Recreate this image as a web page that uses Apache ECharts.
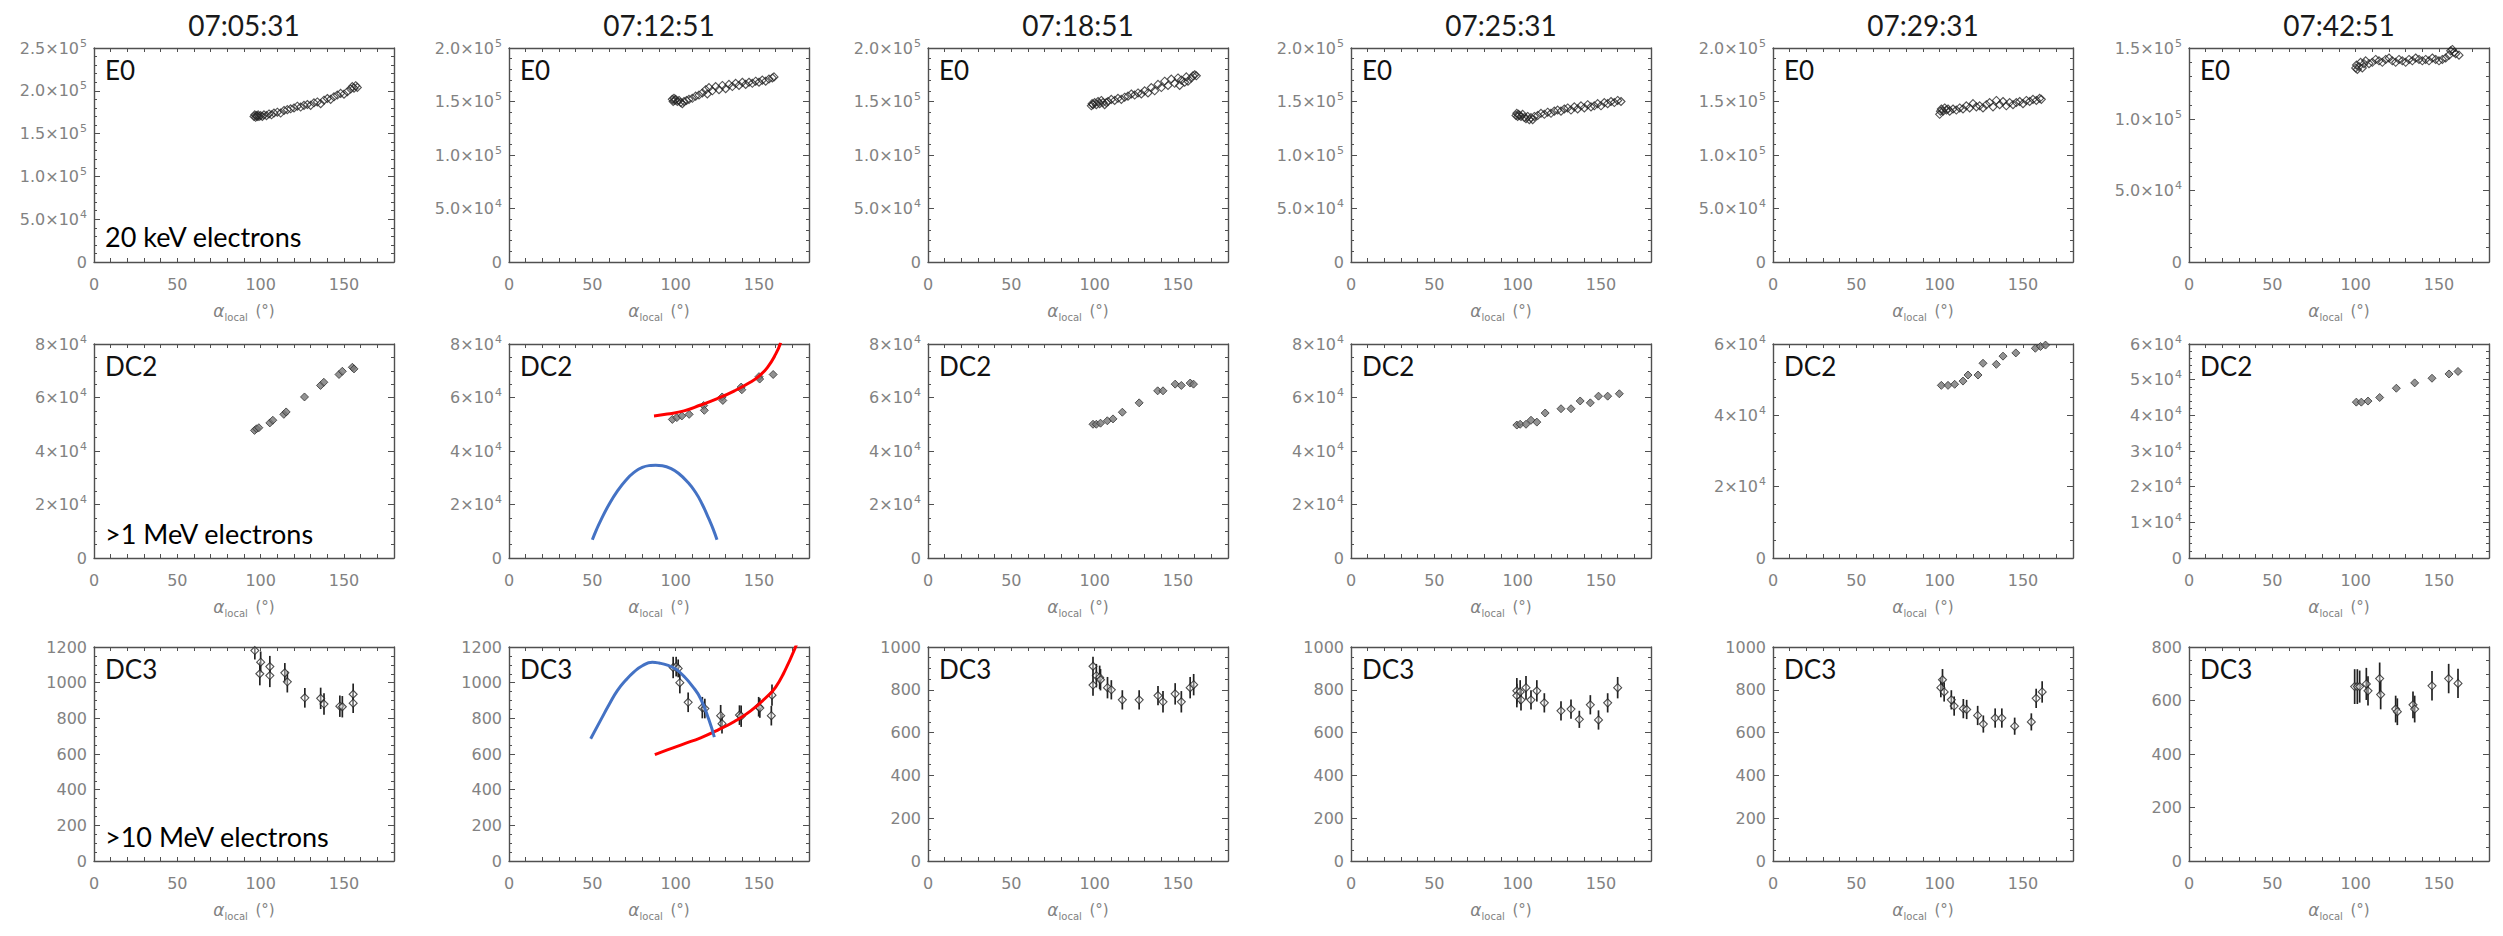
<!DOCTYPE html>
<html>
<head>
<meta charset="utf-8">
<script src="https://cdn.jsdelivr.net/npm/echarts@6/dist/echarts.min.js"></script>
<style>
  html, body { margin: 0; padding: 0; background: #fff; }
  #chart { width: 2503px; height: 936px; }
</style>
</head>
<body>
<div id="chart"></div>
<script>
// ---- labels ----
const timeLabels = ['07:05:31', '07:12:51', '07:18:51', '07:25:31', '07:29:31', '07:42:51'];
const channelNames = ['E0', 'DC2', 'DC3'];
const energyLabels = ['20 keV electrons', '>1 MeV electrons', '>10 MeV electrons'];
const xTickLabels = [0, 50, 100, 150];

// ---- y-axis ranges (one entry per time column) ----
const yMaxE0 = [250000, 200000, 200000, 200000, 200000, 150000];
const yStepE0 = [50000, 50000, 50000, 50000, 50000, 50000];
const yMaxDC2 = [80000, 80000, 80000, 80000, 60000, 60000];
const yStepDC2 = [20000, 20000, 20000, 20000, 20000, 10000];
const yMaxDC3 = [1200, 1200, 1000, 1000, 1000, 800];
const yStepDC3 = [200, 200, 200, 200, 200, 200];

// ---- E0 flux vs local pitch angle [alpha, flux] ----
const e0_070531 = [[96,170000],[96.5,172000],[97,169000],[97.5,171000],[98,170000],[98.5,172000],[99,170000],[100,171000],[101,170000],[102,172000],[103.5,171000],[105,173000],[106.5,172000],[108,174000],[110,175000],[112,174000],[114,177000],[116,178000],[118,179000],[120,180000],[122,182000],[124,181000],[126,183000],[128,184000],[130,183000],[132,186000],[134,187000],[136,185000],[138,189000],[140,191000],[142,190000],[144,193000],[146,195000],[148,197000],[150,196000],[152,199000],[154,202000],[155,205000],[156,203000],[157,206000],[158,204000]];
const e0_071251 = [[98,152000],[98.5,150000],[99,153000],[99.5,151000],[100,152000],[101,150000],[102,151000],[103,149000],[104,148000],[105,150000],[106.5,151000],[108,152000],[110,153000],[112,155000],[114,156000],[116,158000],[118,161000],[119,157000],[120,163000],[122,160000],[124,164000],[126,161000],[128,165000],[130,162000],[132,166000],[134,164000],[136,167000],[138,165000],[140,168000],[142,166000],[144,168000],[146,167000],[148,169000],[150,168000],[152,170000],[154,169000],[156,171000],[158,172000],[159,173000]];
const e0_071851 = [[98,146000],[98.5,148000],[99,147000],[100,149000],[101,147000],[102,150000],[103,148000],[104,151000],[105,149000],[106,147000],[107,149000],[108,150000],[110,152000],[112,151000],[114,153000],[116,152000],[118,154000],[120,155000],[122,157000],[124,156000],[126,158000],[128,157000],[130,160000],[132,158000],[134,163000],[136,160000],[138,166000],[140,163000],[142,169000],[144,165000],[146,171000],[148,167000],[150,172000],[151,165000],[152,170000],[154,168000],[155,173000],[156,169000],[158,172000],[159,174000],[160,175000],[161,174000]];
const e0_072531 = [[99,137000],[99.5,139000],[100,136000],[100.5,138000],[101,137000],[102,136000],[103,138000],[104,135000],[105,134000],[106,136000],[107,133000],[108,135000],[109,133000],[110,136000],[112,137000],[114,139000],[116,138000],[118,140000],[120,139000],[122,141000],[124,142000],[126,141000],[128,143000],[130,144000],[132,142000],[134,145000],[136,143000],[138,146000],[140,144000],[142,147000],[144,145000],[146,146000],[148,148000],[150,146000],[152,149000],[154,148000],[156,150000],[158,149000],[160,151000],[162,150000]];
const e0_072931 = [[100,138000],[100.5,141000],[101,143000],[102,141000],[103,144000],[104,142000],[105,143000],[106,141000],[108,143000],[110,142000],[112,144000],[114,143000],[116,146000],[118,144000],[120,148000],[122,145000],[124,146000],[126,144000],[128,147000],[130,149000],[132,145000],[134,151000],[136,147000],[138,150000],[140,146000],[142,149000],[144,147000],[146,149000],[148,150000],[150,148000],[152,151000],[154,150000],[156,152000],[158,151000],[160,153000],[161,152000]];
const e0_074251 = [[100,136000],[100.5,138000],[101,135000],[102,137000],[103,140000],[104,136000],[105,139000],[106,141000],[108,139000],[110,140000],[112,142000],[114,141000],[116,140000],[118,142000],[120,143000],[122,141000],[124,140000],[126,142000],[128,141000],[130,140000],[132,142000],[134,141000],[136,143000],[138,142000],[140,141000],[142,142000],[144,141000],[146,143000],[148,142000],[150,141000],[152,142000],[154,143000],[156,145000],[157,148000],[158,149000],[159,147000],[160,146000],[162,145000]];

// ---- DC2 flux [alpha, flux] ----
const dc2_070531 = [[96.3,47700],[97.5,48300],[98.9,48700],[105.5,50500],[107.3,51500],[113.9,53700],[115.3,54600],[126.3,60200],[135.9,64500],[137.9,65700],[147,68600],[149,69800],[155,71300],[156,70700]];
const dc2_071251 = [[98,51800],[100.7,52500],[103.7,53100],[108.1,53700],[116.8,57000],[117.2,55200],[127.9,60200],[128.3,58900],[139.3,63900],[139.7,62900],[150,67800],[150.4,66900],[158.5,68600]];
const dc2_071851 = [[99,50000],[101,50000],[103.5,50400],[107.6,51300],[111,52000],[116.6,54500],[126.7,58000],[137.8,62500],[141,62500],[148.3,65000],[152,64500],[157.3,65400],[159.3,65000]];
const dc2_072531 = [[99.5,49700],[101.5,50000],[105,50000],[108,51500],[111.5,50800],[116.5,54200],[126,55800],[132,55800],[137.5,58700],[143.6,58000],[148.5,60500],[154,60500],[161,61400]];
const dc2_072931 = [[101,48400],[105,48400],[109,48700],[114,49600],[117,51300],[123,51300],[126,54600],[134,54300],[138,56600],[145.7,57500],[157.4,58800],[160.5,59300],[163.5,59700]];
const dc2_074251 = [[100.4,43700],[103.4,43700],[107.4,44000],[114.4,45000],[124.4,47600],[135.4,49100],[145.8,50400],[156,51600],[161.4,52300]];

// ---- DC3 flux with error [alpha, flux, error] ----
const dc3_070531 = [[96.5,1180,50],[100,1115,60],[99.5,1050,65],[105.5,1090,60],[105.5,1040,65],[114.5,1055,55],[116,1005,60],[126.5,915,55],[136,912,60],[138,880,60],[147.5,868,60],[149,865,60],[155.5,935,60],[155.5,885,55]];
const dc3_071251 = [[98.5,1085,60],[100.3,1090,55],[101.5,1080,50],[102.5,1000,60],[107.5,890,55],[116,860,60],[117.5,855,55],[127,815,60],[127.8,770,55],[138.3,818,55],[139.3,812,60],[149.8,865,55],[150.5,858,55],[157.8,930,60],[157.4,815,55]];
const dc3_071851 = [[99,910,45],[99,822,50],[101,866,55],[103,858,55],[103.5,847,50],[107.7,810,50],[110,800,45],[116.6,753,45],[126.7,753,45],[138,773,45],[141,744,50],[148.3,781,50],[152,744,50],[157.3,810,50],[159.4,824,50]];
const dc3_072531 = [[99.5,795,60],[99.5,773,55],[101.5,790,55],[102,753,50],[105,810,55],[108,753,45],[111.5,795,50],[116,739,45],[126,702,45],[132,710,45],[137,662,40],[143.6,730,45],[148.5,659,45],[154,739,45],[160,810,50]];
const dc3_072931 = [[100.7,810,45],[101.7,847,50],[102.7,790,45],[107,753,45],[108.7,724,45],[114.2,712,45],[116.2,708,45],[122.8,680,45],[126.2,640,40],[133.3,668,45],[137.3,668,45],[145,630,40],[155,650,40],[157.9,760,45],[161.5,790,50]];
const dc3_074251 = [[99.4,652,65],[101,652,65],[102.4,652,60],[106.4,662,60],[107.4,636,55],[114.4,682,60],[115,622,55],[124,568,50],[125,558,50],[134.4,584,50],[135.4,568,50],[145.8,655,55],[155.8,682,55],[161.4,664,55]];

// ---- model curves at 07:12:51 [alpha, flux] ----
const dc2RedCurve = [[87,53100],[95,53800],[105,55000],[115,57200],[125,59600],[135,62400],[145,65800],[150,68000],[155,71200],[160,76200],[163,80500]];
const dc2BlueCurve = [[50,6800],[52.5,10600],[55,14000],[60,20000],[65,25000],[70,29000],[75,32000],[80,33900],[85,34600],[88,34700],[92,34500],[97,33500],[102,31500],[107,28500],[112,24500],[116,20000],[120,14500],[122.5,10800],[124.8,6800]];
const dc3RedCurve = [[87.5,596],[95,623],[105,657],[115,691],[125,733],[135,781],[145,842],[155,924],[160,975],[165,1057],[171.5,1190],[174,1260]];
const dc3BlueCurve = [[49,686],[55,790],[60,876],[65,955],[70,1013],[75,1060],[80,1095],[86,1114],[90,1110],[95,1098],[100,1076],[105,1035],[110,981],[115,910],[120,790],[123.2,695]];

const e0Data = [e0_070531, e0_071251, e0_071851, e0_072531, e0_072931, e0_074251];
const dc2Data = [dc2_070531, dc2_071251, dc2_071851, dc2_072531, dc2_072931, dc2_074251];
const dc3Data = [dc3_070531, dc3_071251, dc3_071851, dc3_072531, dc3_072931, dc3_074251];

// ---- layout ----
const colLeft = [94, 509, 928, 1351, 1773, 2189];
const rowTop = [48, 344, 647];
const boxW = 300, boxH = 214;
const energyY = [236, 533, 836];

const axisGrey = '#505050';
const labelGrey = '#828282';
const tickFont = 'DejaVu Sans';
const textFont = 'Lato';

function sciLabel(v, digits) {
  if (v === 0) return '0';
  const exp = Math.floor(Math.log10(v) + 1e-9);
  const mant = v / Math.pow(10, exp);
  return mant.toFixed(digits) + '×10{sup|' + exp + '}';
}

const grids = [], xAxes = [], yAxes = [], series = [], graphics = [];

function addPanel(row, col, yMax, yStep, minorSplit, fmt) {
  const gi = grids.length;
  grids.push({ left: colLeft[col], top: rowTop[row], width: boxW, height: boxH, show: false });
  const xBase = {
    type: 'value', gridIndex: gi, min: 0, max: 180, interval: 10,
    splitLine: { show: false },
    axisLine: { show: true, onZero: false, lineStyle: { color: axisGrey, width: 1.4 } },
    axisTick: { show: true, inside: true, length: 4, lineStyle: { color: axisGrey, width: 1 } }
  };
  xAxes.push(Object.assign({}, xBase, {
    position: 'bottom',
    axisLabel: {
      show: true, margin: 14, color: labelGrey, fontFamily: tickFont, fontSize: 16,
      formatter: v => (xTickLabels.indexOf(v) >= 0 ? String(v) : '')
    },
    name: '{a|α}{s|local}  {b|(°)}',
    nameLocation: 'middle', nameGap: 38,
    nameTextStyle: {
      color: labelGrey, fontFamily: tickFont,
      rich: {
        a: { fontSize: 17, fontStyle: 'italic', color: labelGrey, fontFamily: tickFont },
        s: { fontSize: 10, color: labelGrey, fontFamily: tickFont, padding: [12, 0, 0, 0] },
        b: { fontSize: 15, color: labelGrey, fontFamily: tickFont }
      }
    }
  }));
  xAxes.push(Object.assign({}, xBase, { position: 'top', axisLabel: { show: false } }));
  const yBase = {
    type: 'value', gridIndex: gi, min: 0, max: yMax, interval: yStep,
    splitLine: { show: false },
    axisLine: { show: true, onZero: false, lineStyle: { color: axisGrey, width: 1.4 } },
    axisTick: { show: true, inside: true, length: 6, lineStyle: { color: axisGrey, width: 1 } },
    minorTick: { show: true, splitNumber: minorSplit, length: 3, lineStyle: { color: axisGrey, width: 1 } }
  };
  yAxes.push(Object.assign({}, yBase, {
    position: 'left',
    axisLabel: {
      show: true, margin: 7, color: labelGrey, fontFamily: tickFont, fontSize: 16,
      formatter: fmt,
      rich: { sup: { fontSize: 11, color: labelGrey, fontFamily: tickFont, padding: [0, 0, 10, 1] } }
    }
  }));
  yAxes.push(Object.assign({}, yBase, { position: 'right', axisLabel: { show: false } }));

  graphics.push({
    type: 'text', x: colLeft[col] + 11, y: rowTop[row] + 22,
    style: { text: channelNames[row], font: '26px ' + textFont, fill: '#111', align: 'left', verticalAlign: 'middle' }
  });
  return { xAxisIndex: 2 * gi, yAxisIndex: 2 * gi };
}

function curve(idx, data, color) {
  return Object.assign({
    type: 'line', data: data, showSymbol: false, smooth: true, clip: true, z: 4,
    lineStyle: { color: color, width: 3 }, silent: true
  }, idx);
}

for (let c = 0; c < 6; c++) {
  // top row: 20 keV electrons
  const i0 = addPanel(0, c, yMaxE0[c], yStepE0[c], 5, v => sciLabel(v, 1));
  series.push(Object.assign({
    type: 'scatter', data: e0Data[c], symbol: 'diamond', symbolSize: 8,
    itemStyle: { color: 'rgba(255,255,255,0)', borderColor: '#262626', borderWidth: 1.1 }
  }, i0));

  // middle row: >1 MeV electrons
  const i1 = addPanel(1, c, yMaxDC2[c], yStepDC2[c], c === 5 ? 5 : 4, v => sciLabel(v, 0));
  series.push(Object.assign({
    type: 'scatter', data: dc2Data[c], symbol: 'diamond', symbolSize: 8,
    itemStyle: { color: '#777', borderColor: '#333', borderWidth: 1 }
  }, i1));

  // bottom row: >10 MeV electrons with error bars
  const i2 = addPanel(2, c, yMaxDC3[c], yStepDC3[c], 4, v => String(v));
  series.push(Object.assign({
    type: 'custom', clip: true,
    data: dc3Data[c].map(d => [d[0], d[1] - d[2], d[1] + d[2]]),
    encode: { x: 0, y: [1, 2] },
    renderItem: function (params, api) {
      const lo = api.coord([api.value(0), api.value(1)]);
      const hi = api.coord([api.value(0), api.value(2)]);
      return {
        type: 'line',
        shape: { x1: lo[0], y1: lo[1], x2: hi[0], y2: hi[1] },
        style: { stroke: '#222', lineWidth: 1.7 }
      };
    }
  }, i2));
  series.push(Object.assign({
    type: 'scatter', data: dc3Data[c].map(d => [d[0], d[1]]), symbol: 'diamond', symbolSize: 8,
    itemStyle: { color: 'rgba(255,255,255,0.5)', borderColor: '#222', borderWidth: 1.1 }
  }, i2));

  if (c === 1) {
    series.push(curve(i1, dc2RedCurve, '#ff0000'));
    series.push(curve(i1, dc2BlueCurve, '#4472c4'));
    series.push(curve(i2, dc3RedCurve, '#ff0000'));
    series.push(curve(i2, dc3BlueCurve, '#4472c4'));
  }

  graphics.push({
    type: 'text', x: colLeft[c] + boxW / 2, y: 25,
    style: { text: timeLabels[c], font: '28px ' + textFont, fill: '#1a1a1a', align: 'center', verticalAlign: 'middle' }
  });
}

for (let r = 0; r < 3; r++) {
  graphics.push({
    type: 'text', x: colLeft[0] + 11, y: energyY[r],
    style: { text: energyLabels[r], font: '27px ' + textFont, fill: '#000', align: 'left', verticalAlign: 'middle' }
  });
}

const chart = echarts.init(document.getElementById('chart'), null, { renderer: 'svg' });
chart.setOption({
  animation: false,
  backgroundColor: '#ffffff',
  grid: grids,
  xAxis: xAxes,
  yAxis: yAxes,
  series: series,
  graphic: graphics
});
</script>
</body>
</html>
